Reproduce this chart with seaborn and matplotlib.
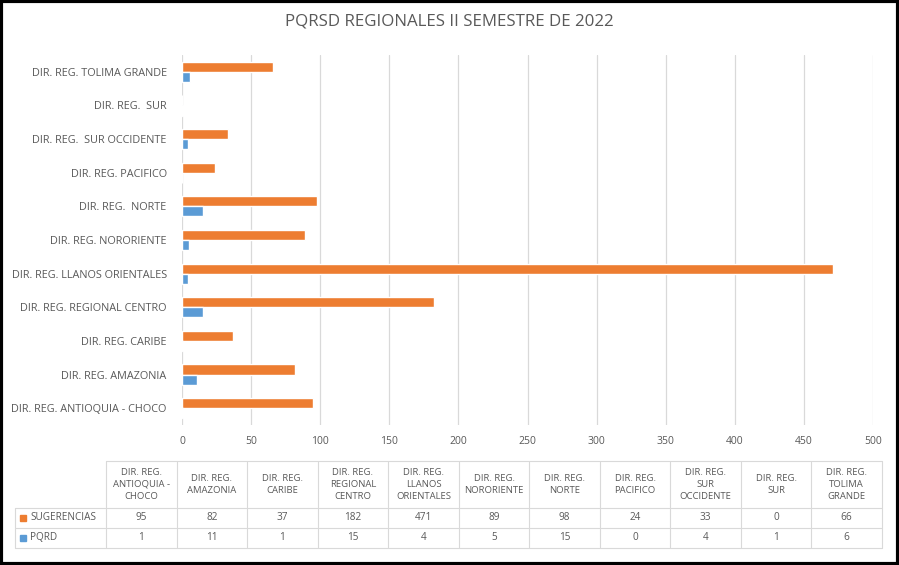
import matplotlib
matplotlib.use("Agg")
import matplotlib.pyplot as plt
import seaborn as sns
import pandas as pd
from matplotlib.patches import Rectangle
from matplotlib.lines import Line2D

# ---- data ----
categories = ["DIR. REG. ANTIOQUIA - CHOCO", "DIR. REG. AMAZONIA", "DIR. REG. CARIBE",
              "DIR. REG. REGIONAL CENTRO", "DIR. REG. LLANOS ORIENTALES", "DIR. REG. NORORIENTE",
              "DIR. REG.  NORTE", "DIR. REG. PACIFICO", "DIR. REG.  SUR OCCIDENTE",
              "DIR. REG.  SUR", "DIR. REG. TOLIMA GRANDE"]
table_headers = ["DIR. REG.\nANTIOQUIA -\nCHOCO", "DIR. REG.\nAMAZONIA", "DIR. REG.\nCARIBE",
                 "DIR. REG.\nREGIONAL\nCENTRO", "DIR. REG.\nLLANOS\nORIENTALES", "DIR. REG.\nNORORIENTE",
                 "DIR. REG.\nNORTE", "DIR. REG.\nPACIFICO", "DIR. REG.\nSUR\nOCCIDENTE",
                 "DIR. REG.\nSUR", "DIR. REG.\nTOLIMA\nGRANDE"]
sugerencias = [95, 82, 37, 182, 471, 89, 98, 24, 33, 0, 66]
pqrd = [1, 11, 1, 15, 4, 5, 15, 0, 4, 1, 6]
series_names = ["SUGERENCIAS", "PQRD"]
xticks = [0, 50, 100, 150, 200, 250, 300, 350, 400, 450, 500]
title = "PQRSD REGIONALES II SEMESTRE DE 2022"

colors = {"SUGERENCIAS": "#ED7D31", "PQRD": "#5B9BD5"}
txt = "#595959"
grid_c = "#D9D9D9"

df = pd.DataFrame({
    "cat": categories * 2,
    "serie": ["SUGERENCIAS"] * len(categories) + ["PQRD"] * len(categories),
    "val": sugerencias + pqrd,
})

sns.set_theme(style="white")
plt.rcParams["font.family"] = ["Open Sans", "DejaVu Sans"]

W, H = 899, 565
fig = plt.figure(figsize=(W / 100, H / 100), dpi=100)

def fx(x):
    return x / W

def fy(y):
    return 1 - y / H

ax = fig.add_axes([fx(182), fy(425), fx(873) - fx(182), fy(55) - fy(425)])
sns.barplot(data=df, y="cat", x="val", hue="serie", order=categories[::-1],
            hue_order=series_names, palette=colors, width=0.6, orient="h",
            ax=ax, legend=False, saturation=1)
ax.set_xlim(0, 500)
ax.set_xticks(xticks)
ax.set_xticklabels([str(v) for v in xticks], fontsize=7.5, color=txt)
ax.tick_params(axis="both", length=0, pad=8)
ax.tick_params(axis="y", pad=11)
for lbl in ax.get_yticklabels():
    lbl.set_fontsize(7.8)
    lbl.set_color(txt)
ax.set_xlabel("")
ax.set_ylabel("")
ax.grid(axis="x", color=grid_c, linewidth=0.9)
ax.set_axisbelow(True)
for s in ax.spines.values():
    s.set_visible(False)

fig.text(0.5, fy(22), title, ha="center", va="center", fontsize=12.2, color=txt)

# ---- data table ----
x0_lab, x0, x1 = 15, 106, 882
y_top, y_head, y_r1, y_r2 = 461, 508, 528, 548
ncol = len(table_headers)
cw = (x1 - x0) / ncol
lw = 0.8

def hline(xa, xb, y):
    fig.add_artist(Line2D([fx(xa), fx(xb)], [fy(y), fy(y)], color=grid_c, lw=lw))

def vline(x, ya, yb):
    fig.add_artist(Line2D([fx(x), fx(x)], [fy(ya), fy(yb)], color=grid_c, lw=lw))

hline(x0, x1, y_top)
for y in (y_head, y_r1, y_r2):
    hline(x0_lab, x1, y)
vline(x0_lab, y_head, y_r2)
for i in range(ncol + 1):
    vline(x0 + i * cw, y_top, y_r2)

for i, h in enumerate(table_headers):
    cx = x0 + (i + 0.5) * cw
    fig.text(fx(cx), fy((y_top + y_head) / 2), h, ha="center", va="center",
             fontsize=6.8, color=txt, linespacing=1.45)
    fig.text(fx(cx), fy((y_head + y_r1) / 2), str(sugerencias[i]), ha="center",
             va="center", fontsize=7.2, color=txt)
    fig.text(fx(cx), fy((y_r1 + y_r2) / 2), str(pqrd[i]), ha="center",
             va="center", fontsize=7.2, color=txt)

for name, ya, yb in ((series_names[0], y_head, y_r1), (series_names[1], y_r1, y_r2)):
    cy = (ya + yb) / 2
    fig.add_artist(Rectangle((fx(20), fy(cy + 3)), fx(6), fy(0) - fy(6),
                             color=colors[name], transform=fig.transFigure))
    fig.text(fx(30), fy(cy), name, ha="left", va="center", fontsize=7.2, color=txt)

# outer frame
fig.add_artist(Rectangle((0.0015, 0.0025), 0.997, 0.995, fill=False, edgecolor="black",
                         lw=3, transform=fig.transFigure))

fig.savefig("out.png", dpi=100, facecolor="white")
